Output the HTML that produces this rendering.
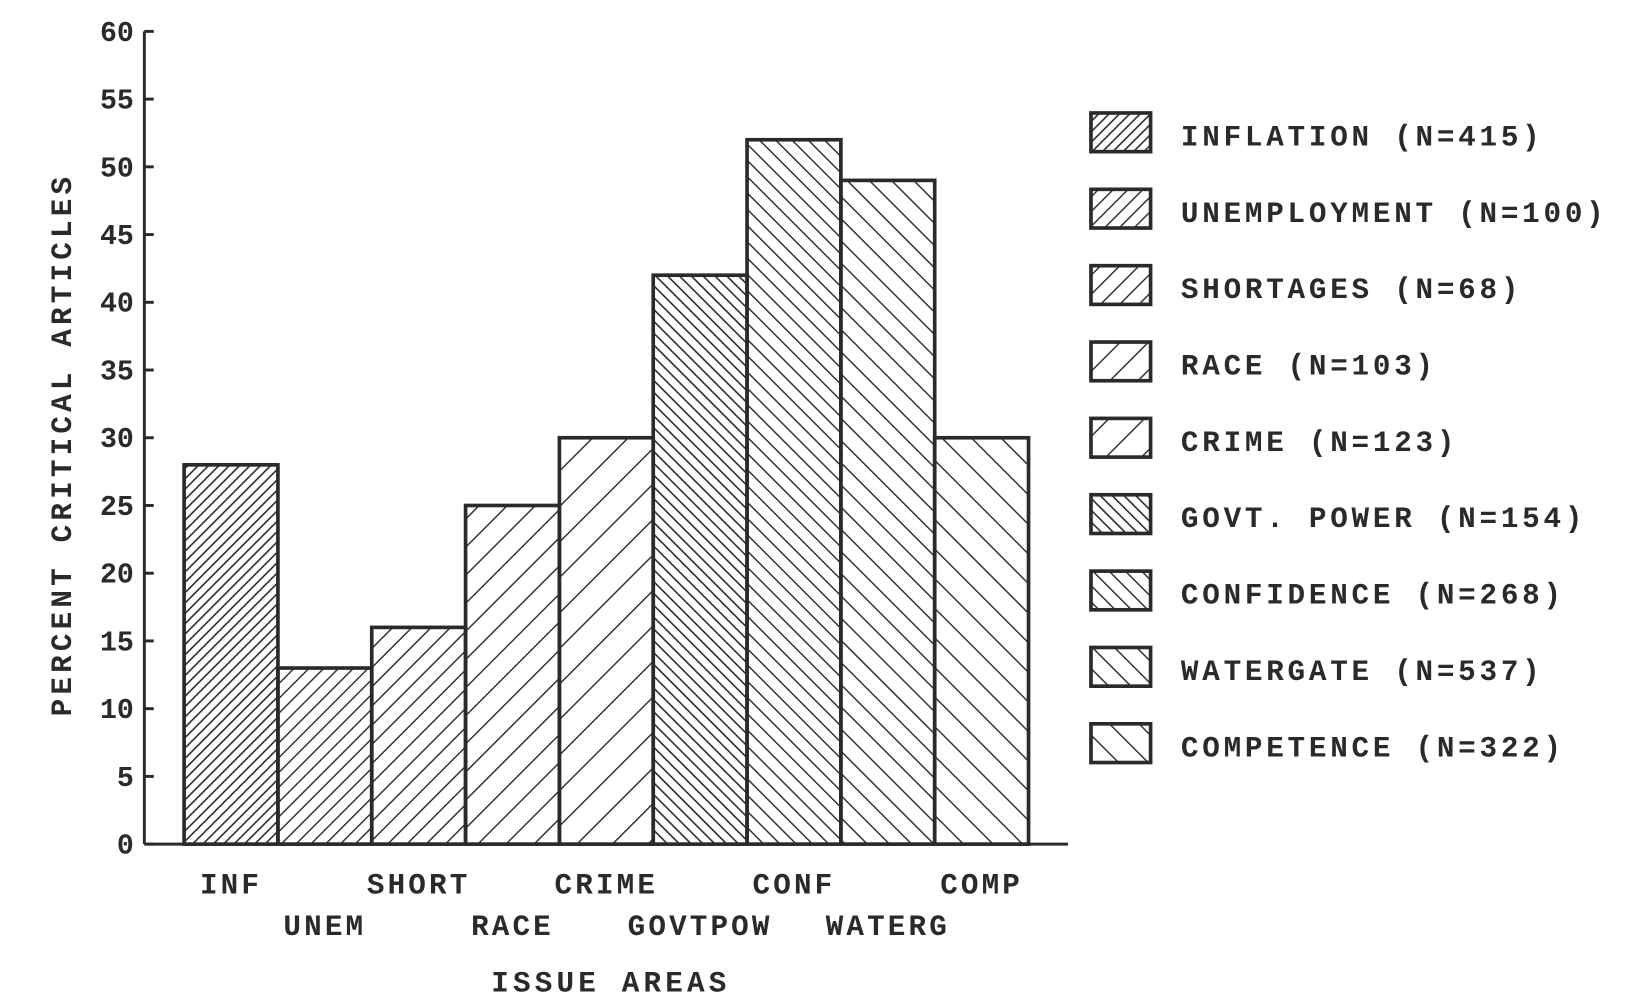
<!DOCTYPE html>
<html><head><meta charset="utf-8"><style>
body{margin:0;background:#fff;}
svg text{font-family:"Liberation Mono",monospace;font-weight:bold;fill:#2a2a2a;}
</style></head><body>
<svg id="chart" width="1632" height="997" xmlns="http://www.w3.org/2000/svg">
<defs id="defs"></defs>
<g transform="scale(1.046)">
<g id="plot"></g>
<g id="legend"></g>
</g>
</svg>
<script>
const categories=["INF","UNEM","SHORT","RACE","CRIME","GOVTPOW","CONF","WATERG","COMP"];
const values=[28,13,16,25,30,42,52,49,30];
const legendLabels=["INFLATION (N=415)","UNEMPLOYMENT (N=100)","SHORTAGES (N=68)","RACE (N=103)","CRIME (N=123)","GOVT. POWER (N=154)","CONFIDENCE (N=268)","WATERGATE (N=537)","COMPETENCE (N=322)"];
const yTicks=[0,5,10,15,20,25,30,35,40,45,50,55,60];
const spacing=[7,10,13,19,24,8,11,15,20];
const dirs=[1,1,1,1,1,-1,-1,-1,-1];

const NS="http://www.w3.org/2000/svg";
const svg=document.getElementById('chart'),defs=document.getElementById('defs'),plot=document.getElementById('plot'),leg=document.getElementById('legend');
const x0=138,y0=807,yTop=30,barStart=176,barW=89.7,col="#2a2a2a";
const y=v=>y0-(v/60)*(y0-yTop);
const x=i=>barStart+i*barW;
function mk(t,a,p){const e=document.createElementNS(NS,t);for(const k in a)e.setAttribute(k,a[k]);(p||svg).appendChild(e);return e;}
categories.forEach((c,i)=>{
  const s=spacing[i];
  const p=mk('pattern',{id:'h'+i,patternUnits:'userSpaceOnUse',width:s,height:s,patternTransform:'rotate('+(dirs[i]>0?45:-45)+')'},defs);
  mk('line',{x1:0,y1:0,x2:0,y2:s,stroke:col,'stroke-width':i==0||i==5?3:2.7},p);
});
const ya=mk('line',{x1:x0,y1:yTop,x2:x0,y2:y0,stroke:col,'stroke-width':2.8},plot);

const xa=mk('line',{x1:x0,y1:y0,x2:1021,y2:y0,stroke:col,'stroke-width':2.8},plot);

yTicks.forEach(t=>{
  const tk=mk('line',{x1:x0,y1:y(t),x2:x0+9,y2:y(t),stroke:col,'stroke-width':2.8},plot);
  
  const tl=mk('text',{x:x0-10,y:y(t)+9,'text-anchor':'end','font-size':27},plot);
  tl.textContent=t;
  
});
categories.forEach((c,i)=>{
  const r=mk('rect',{x:x(i),y:y(values[i]),width:barW,height:y0-y(values[i]),fill:'url(#h'+i+')',stroke:col,'stroke-width':3.5},plot);
  
  const t=mk('text',{x:x(i)+barW/2,y:i%2==0?854:894,'text-anchor':'middle','font-size':28,'letter-spacing':3},plot);
  t.textContent=c;
  
});
const xt=mk('text',{x:584,y:948,'text-anchor':'middle','font-size':28,'letter-spacing':4},plot);
xt.textContent="ISSUE AREAS";

const yt=mk('text',{x:0,y:0,transform:'translate(68,425) rotate(-90)','text-anchor':'middle','font-size':28,'letter-spacing':4},plot);
yt.textContent="PERCENT CRITICAL ARTICLES";

legendLabels.forEach((l,i)=>{
  const yy=108+i*73;
  const b=mk('rect',{x:1043,y:yy,width:57,height:37,fill:'url(#h'+i+')',stroke:col,'stroke-width':3.5},leg);
  
  const t=mk('text',{x:1129,y:yy+31,'font-size':28,'letter-spacing':3.6,'xml:space':'preserve'},leg);
  t.textContent=l.replace(' (','  (');
  
});
</script>
</body></html>
